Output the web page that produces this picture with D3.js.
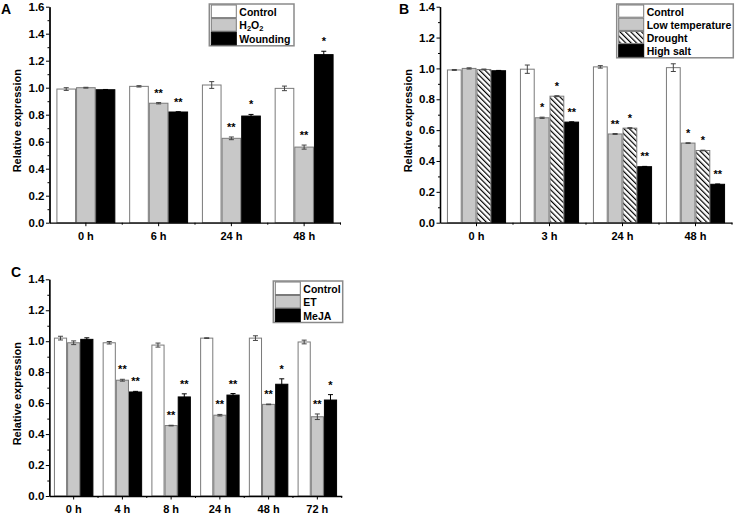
<!DOCTYPE html>
<head>
<meta charset="utf-8">
<title>Relative expression</title>
<script src="https://d3js.org/d3.v7.min.js"></script>
<style>
body { margin: 0; background: #fff; }
svg text { font-family: Arial, "Liberation Sans", sans-serif; font-weight: bold; fill: #000; }
</style>
</head>
<body>
<div id="container"></div>
<script>
//----------------------------DATA-----------------------------//
// panel A
const timesA = ["0 h", "6 h", "24 h", "48 h"];
const controlA = [0.99, 1.01, 1.02, 0.995];
const controlErrA = [0.01, 0.005, 0.025, 0.017];
const h2o2A = [1.0, 0.885, 0.625, 0.56];
const h2o2ErrA = [0.003, 0.005, 0.01, 0.015];
const h2o2StarA = ["", "**", "**", "**"];
const woundA = [0.985, 0.82, 0.79, 1.245];
const woundErrA = [0.002, 0.002, 0.012, 0.025];
const woundStarA = ["", "**", "*", "*"];

// panel B
const timesB = ["0 h", "3 h", "24 h", "48 h"];
const controlB = [0.99, 0.995, 1.01, 1.005];
const controlErrB = [0.003, 0.027, 0.008, 0.025];
const lowTempB = [1.0, 0.68, 0.575, 0.516];
const lowTempErrB = [0.004, 0.004, 0.003, 0.002];
const lowTempStarB = ["", "*", "**", "*"];
const droughtB = [0.993, 0.82, 0.613, 0.468];
const droughtErrB = [0.003, 0.003, 0.003, 0.002];
const droughtStarB = ["", "*", "*", "*"];
const saltB = [0.985, 0.652, 0.363, 0.249];
const saltErrB = [0.002, 0.002, 0.002, 0.002];
const saltStarB = ["", "**", "**", "**"];

// panel C
const timesC = ["0 h", "4 h", "8 h", "24 h", "48 h", "72 h"];
const controlC = [1.02, 0.99, 0.975, 1.02, 1.02, 0.995];
const controlErrC = [0.012, 0.008, 0.013, 0.002, 0.015, 0.012];
const etC = [0.99, 0.748, 0.455, 0.522, 0.592, 0.512];
const etErrC = [0.012, 0.006, 0.002, 0.005, 0.002, 0.018];
const etStarC = ["", "**", "**", "**", "**", "**"];
const mejaC = [1.012, 0.672, 0.64, 0.652, 0.722, 0.62];
const mejaErrC = [0.01, 0.004, 0.02, 0.01, 0.035, 0.035];
const mejaStarC = ["", "**", "**", "**", "*", "*"];

const noStars = n => new Array(n).fill("");

//---------------------------PANELS----------------------------//
const panels = [
  {
    letter: "A", letterPos: [1, 14],
    xRange: [49.5, 340.5], yRange: [222.7, 6.7], yMax: 1.6,
    titleX: 17, cats: timesA,
    legend: { x: 209.3, y: 4, w: 84.7, row: 13.6 },
    series: [
      { name: "Control", v: controlA, e: controlErrA, s: noStars(4), fill: "#fff", stroke: "#7a7a7a" },
      { name: "H2O2", v: h2o2A, e: h2o2ErrA, s: h2o2StarA, fill: "#c8c8c8", stroke: "#7a7a7a" },
      { name: "Wounding", v: woundA, e: woundErrA, s: woundStarA, fill: "#000", stroke: "#000" }
    ]
  },
  {
    letter: "B", letterPos: [399, 14],
    xRange: [440, 732], yRange: [222.7, 6.7], yMax: 1.4,
    titleX: 408, cats: timesB,
    legend: { x: 616.7, y: 4, w: 116.6, row: 13.2 },
    series: [
      { name: "Control", v: controlB, e: controlErrB, s: noStars(4), fill: "#fff", stroke: "#7a7a7a" },
      { name: "Low temperature", v: lowTempB, e: lowTempErrB, s: lowTempStarB, fill: "#c8c8c8", stroke: "#7a7a7a" },
      { name: "Drought", v: droughtB, e: droughtErrB, s: droughtStarB, fill: "url(#hatch)", stroke: "#7a7a7a" },
      { name: "High salt", v: saltB, e: saltErrB, s: saltStarB, fill: "#000", stroke: "#000" }
    ]
  },
  {
    letter: "C", letterPos: [11, 277],
    xRange: [49.3, 341.7], yRange: [496, 279.3], yMax: 1.4,
    titleX: 17, cats: timesC,
    legend: { x: 273.3, y: 281, w: 69.4, row: 13.5 },
    series: [
      { name: "Control", v: controlC, e: controlErrC, s: noStars(6), fill: "#fff", stroke: "#7a7a7a" },
      { name: "ET", v: etC, e: etErrC, s: etStarC, fill: "#c8c8c8", stroke: "#7a7a7a" },
      { name: "MeJA", v: mejaC, e: mejaErrC, s: mejaStarC, fill: "#000", stroke: "#000" }
    ]
  }
];

//-----------------------------SVG------------------------------//
const svg = d3.select("#container").append("svg")
    .attr("width", 737)
    .attr("height", 514);

const hs = 3.8;
const pat = svg.append("defs").append("pattern")
    .attr("id", "hatch")
    .attr("patternUnits", "userSpaceOnUse")
    .attr("width", hs)
    .attr("height", hs)
    .attr("patternTransform", "rotate(-45)");
pat.append("rect").attr("width", hs).attr("height", hs).attr("fill", "#fff");
pat.append("line").attr("x1", 0.6).attr("x2", 0.6).attr("y1", 0).attr("y2", hs)
    .attr("stroke", "#000").attr("stroke-width", 1.2);

// legend label, with subscripts for H2O2
function writeLabel(sel, name) {
  if (name === "H2O2") {
    sel.append("tspan").text("H");
    sel.append("tspan").text("2").attr("font-size", "7.5px").attr("dy", 2);
    sel.append("tspan").text("O").attr("dy", -2);
    sel.append("tspan").text("2").attr("font-size", "7.5px").attr("dy", 2);
  } else {
    sel.text(name);
  }
}

panels.forEach(function(p) {
  const g = svg.append("g");
  const n = p.series.length;

  const x0 = d3.scaleBand().domain(p.cats).range(p.xRange)
      .paddingInner(0.19).paddingOuter(0.095);
  const x1 = d3.scaleBand().domain(p.series.map(d => d.name))
      .range([0, x0.bandwidth()]);
  const y = d3.scaleLinear().domain([0, p.yMax]).range(p.yRange);

  //---------------------------BARS---------------------------//
  p.series.forEach(function(s) {
    const sg = g.append("g");
    const bars = sg.selectAll("g.bar")
        .data(p.cats.map((c, i) => ({ c: c, v: s.v[i], e: s.e[i], star: s.s[i] })))
        .enter().append("g");

    bars.append("rect")
        .attr("x", d => x0(d.c) + x1(s.name) + 0.5)
        .attr("width", x1.bandwidth() - 1)
        .attr("y", d => y(d.v))
        .attr("height", d => y(0) - y(d.v))
        .attr("fill", s.fill)
        .attr("stroke", s.stroke)
        .attr("stroke-width", 1);

    // error bars
    const cx = d => x0(d.c) + x1(s.name) + x1.bandwidth() / 2;
    const errCol = s.fill === "#000" ? "#000" : "#444";
    bars.append("line")
        .attr("x1", cx).attr("x2", cx)
        .attr("y1", d => y(d.v + d.e)).attr("y2", d => y(d.v - d.e))
        .attr("stroke", errCol).attr("stroke-width", 1);
    [1, -1].forEach(function(sign) {
      bars.append("line")
          .attr("x1", d => cx(d) - 2.5).attr("x2", d => cx(d) + 2.5)
          .attr("y1", d => y(d.v + sign * d.e)).attr("y2", d => y(d.v + sign * d.e))
          .attr("stroke", errCol).attr("stroke-width", 1);
    });

    bars.filter(d => d.star !== "").append("text")
        .attr("x", cx)
        .attr("y", d => y(d.v + d.e) - 6)
        .attr("text-anchor", "middle")
        .attr("font-size", "11px")
        .text(d => d.star);
  });

  //---------------------------AXES---------------------------//
  const yaxis = d3.axisLeft(y)
      .tickValues(d3.range(0, p.yMax + 0.001, 0.2))
      .tickFormat(d3.format(".1f"))
      .tickSize(3.5).tickSizeOuter(0).tickPadding(1.5);
  const ya = g.append("g")
      .attr("class", "yaxis")
      .attr("transform", "translate(" + p.xRange[0] + ",0)")
      .call(yaxis);
  g.append("g")
      .attr("transform", "translate(" + p.xRange[0] + ",0)")
      .call(d3.axisLeft(y).tickValues(d3.range(0.1, p.yMax, 0.2))
            .tickFormat("").tickSize(2).tickSizeOuter(0));

  const xaxis = d3.axisBottom(x0)
      .tickSize(3.5).tickSizeOuter(0).tickPadding(6);
  const xa = g.append("g")
      .attr("class", "xaxis")
      .attr("transform", "translate(0," + p.yRange[0] + ")")
      .call(xaxis);
  const step = x0.step();
  g.append("g")
      .attr("transform", "translate(0," + p.yRange[0] + ")")
      .selectAll("line")
      .data(d3.range(1, p.cats.length + 1))
      .enter().append("line")
      .attr("x1", i => p.xRange[0] + i * step)
      .attr("x2", i => p.xRange[0] + i * step)
      .attr("y1", 0).attr("y2", 2)
      .attr("stroke", "#000");

  g.selectAll(".domain").attr("stroke", "#000").attr("stroke-width", 1.3);
  g.selectAll(".tick line").attr("stroke", "#000");
  g.selectAll(".tick text")
      .attr("font-family", "Arial, 'Liberation Sans', sans-serif")
      .attr("font-weight", "bold");
  ya.selectAll(".tick text").attr("font-size", "11.5px");
  xa.selectAll(".tick text").attr("font-size", "11px");

  // axis title
  const mid = (p.yRange[0] + p.yRange[1]) / 2 + 6;
  g.append("text")
      .attr("transform", "translate(" + p.titleX + "," + mid + ") rotate(-90)")
      .attr("text-anchor", "middle")
      .attr("dy", "0.35em")
      .attr("font-size", "11px")
      .text("Relative expression");

  // panel letter
  g.append("text")
      .attr("x", p.letterPos[0]).attr("y", p.letterPos[1])
      .attr("font-size", "14px")
      .text(p.letter);

  //--------------------------LEGEND--------------------------//
  const L = p.legend;
  const lg = g.append("g");
  lg.append("rect")
      .attr("x", L.x).attr("y", L.y)
      .attr("width", L.w).attr("height", L.row * n + 1)
      .attr("fill", "#fff")
      .attr("stroke", "#8a8a8a").attr("stroke-width", 1.5);
  const rows = lg.selectAll("g.row").data(p.series).enter().append("g")
      .attr("transform", (d, i) => "translate(" + (L.x + 2) + "," + (L.y + 1 + i * L.row) + ")");
  rows.append("rect")
      .attr("width", 25).attr("height", L.row - 1)
      .attr("fill", d => d.fill)
      .attr("stroke", d => d.fill === "#000" ? "#000" : "#7a7a7a")
      .attr("stroke-width", 1);
  rows.append("text")
      .attr("x", 28).attr("y", L.row / 2 + 4)
      .attr("font-size", "10.5px")
      .each(function(d) { writeLabel(d3.select(this), d.name); });
});
</script>
</body>
